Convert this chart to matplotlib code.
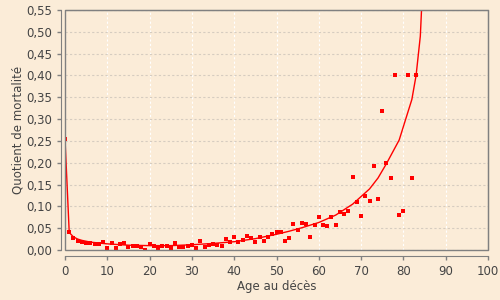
import numpy as np
import matplotlib
matplotlib.use("Agg")
import matplotlib.pyplot as plt
from matplotlib.patches import Rectangle
from matplotlib.ticker import FuncFormatter, MultipleLocator

# quotients observes par age
ages = list(range(0, 84))
quotients = [0.255, 0.041, 0.027, 0.020, 0.018, 0.015, 0.015, 0.013, 0.013, 0.018,
             0.004, 0.015, 0.004, 0.013, 0.015, 0.006, 0.008, 0.008, 0.006, 0.000,
             0.013, 0.008, 0.004, 0.008, 0.008, 0.004, 0.015, 0.006, 0.006, 0.008,
             0.011, 0.004, 0.020, 0.006, 0.011, 0.013, 0.011, 0.008, 0.025, 0.018,
             0.029, 0.018, 0.022, 0.031, 0.027, 0.018, 0.029, 0.020, 0.029, 0.036,
             0.041, 0.041, 0.020, 0.027, 0.059, 0.045, 0.061, 0.059, 0.029, 0.057,
             0.075, 0.057, 0.054, 0.075, 0.057, 0.086, 0.082, 0.089, 0.167, 0.109,
             0.077, 0.123, 0.112, 0.192, 0.116, 0.318, 0.199, 0.164, 0.400, 0.080,
             0.089, 0.400, 0.164, 0.400]

# courbe ajustee
ages_fit = [0, 1, 2, 3, 4, 5, 6, 8, 10, 15, 20, 25, 30, 35, 40, 45, 48, 50, 53, 56,
            60, 64, 68, 72, 74, 76, 79, 80, 81, 82, 83, 84, 85]
q_fit = [0.255, 0.040, 0.030, 0.025, 0.022, 0.020, 0.018, 0.016, 0.014, 0.011,
         0.010, 0.010, 0.012, 0.015, 0.019, 0.026, 0.032, 0.036, 0.043, 0.051,
         0.063, 0.080, 0.105, 0.140, 0.165, 0.198, 0.252, 0.283, 0.314, 0.345,
         0.400, 0.490, 0.700]

bg = '#fbecd8'
fig = plt.figure(figsize=(5, 3), dpi=100, facecolor=bg)
ax = fig.add_axes([0.13, 0.1667, 0.846, 0.80])
ax.set_facecolor(bg)

ax.plot(ages_fit, q_fit, color='#ff0000', lw=1.0, zorder=3)
ax.scatter(ages, quotients, marker='s', s=7, color='#ff0000', linewidths=0, zorder=4)

ax.set_xlim(0, 100)
ax.set_ylim(0, 0.55)
ax.xaxis.set_major_locator(MultipleLocator(10))
ax.yaxis.set_major_locator(MultipleLocator(0.05))
ax.yaxis.set_major_formatter(FuncFormatter(lambda v, p: ('%.2f' % v).replace('.', ',')))

ax.grid(axis='y', color='#d6ccc0', linestyle=(0, (2, 2)), lw=0.8)
ax.grid(axis='x', color='#ffffff', linestyle=(0, (2, 2)), lw=0.8)
ax.set_axisbelow(True)

for s in ['top', 'right', 'left', 'bottom']:
    ax.spines[s].set_color('#808080')
ax.spines['left'].set_position(('outward', 3))
ax.spines['bottom'].set_position(('outward', 4))
ax.add_patch(Rectangle((0, 0), 1, 1, transform=ax.transAxes, fill=False,
                       edgecolor='#808080', lw=1, clip_on=False, zorder=5))

ax.tick_params(colors='#808080', labelcolor='#444444', labelsize=8.5, length=3, width=1)
ax.set_xlabel('Age au décès', color='#444444', fontsize=8.5, labelpad=2)
ax.set_ylabel('Quotient de mortalité', color='#444444', fontsize=8.5, labelpad=1)

fig.savefig('out.png', dpi=100, facecolor=bg)
